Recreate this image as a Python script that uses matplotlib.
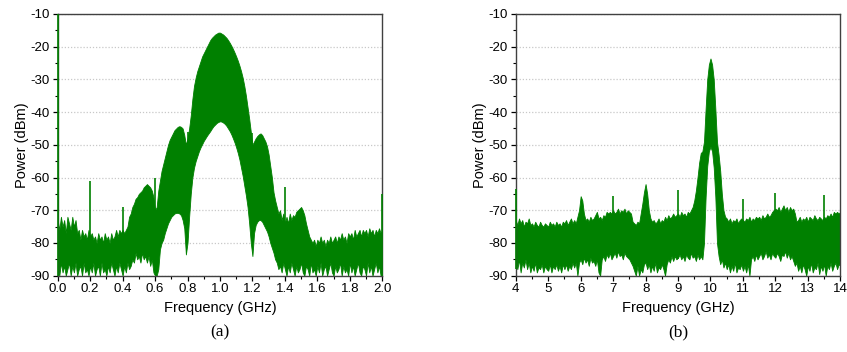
import numpy as np
import matplotlib
matplotlib.use("Agg")
import matplotlib.pyplot as plt
from matplotlib.ticker import MultipleLocator

plt.rcParams['font.family'] = ['Liberation Sans', 'DejaVu Sans']
plt.rcParams['axes.unicode_minus'] = False

GREEN = '#008000'

# ---- panel (a): 0-2 GHz, sampled every 0.01 GHz ----
freq_a = np.round(np.arange(0, 2.0001, 0.01), 2)
upper_a = [
    -73, -76, -72, -75, -73, -77, -72, -74, -76, -72,
    -75, -73, -77, -76, -79, -76, -78, -77, -79, -76,
    -78, -77, -79, -78, -80, -77, -79, -78, -80, -77,
    -79, -78, -80, -77, -79, -78, -76, -78, -76, -77,
    -76, -77, -76, -75, -72, -71, -69, -68, -66.5, -66,
    -65, -64.5, -64, -63, -62.5, -62, -62.5, -63, -64, -66,
    -70, -69, -64, -61, -58, -56, -54, -52, -50, -48.5,
    -47.5, -46.5, -45.5, -45, -44.5, -44.3, -44.5, -45, -47, -50,
    -48, -45, -41, -36, -32, -29.5, -27.5, -26, -24.5, -23,
    -22, -21, -20, -19, -18, -17.3, -16.8, -16.3, -16, -15.7,
    -15.7, -16, -16.3, -16.8, -17.3, -18, -18.8, -19.7, -20.7, -21.8,
    -23, -24.3, -25.8, -27.5, -29.5, -32, -35, -38.5, -42, -46,
    -50, -49, -48, -47.3, -46.8, -46.5, -47, -48, -49, -50.5,
    -53, -56.5, -60, -64.5, -67, -69, -71, -70, -73, -71,
    -74, -72, -74, -71, -73, -71.5, -72, -70.5, -70, -69.5,
    -69, -70, -71.5, -74, -76, -78, -79, -80, -79, -81,
    -79, -80, -78, -80, -79, -81, -79, -80, -78, -80,
    -79, -78, -80, -78, -79, -77, -79, -78, -80, -77,
    -78, -77, -79, -76, -78, -77, -76, -78, -76, -77,
    -76, -78, -75.5, -77, -76, -78, -76, -77, -75.5, -77,
    -76,
]
lower_a = [
    -88, -90, -86, -89, -87, -90, -88, -86, -90, -87,
    -89, -86, -90, -88, -87, -90, -86, -89, -88, -90,
    -87, -89, -86, -90, -88, -87, -90, -86, -89, -88,
    -90, -87, -89, -86, -88, -90, -87, -89, -86, -88,
    -90, -87, -89, -86, -88, -87, -85, -86, -83, -85,
    -84, -86, -83, -85, -84, -86, -84, -87, -85, -89,
    -90, -90, -88, -82, -80, -79, -77, -75.5, -74, -73,
    -72, -71.5, -71, -70.8, -70.8, -71, -71.5, -73, -75.5, -83.5,
    -80, -72, -65, -60, -57, -55, -53.5, -52, -50.8, -49.8,
    -48.8, -48, -47.2, -46.5, -45.8, -45, -44.3, -43.8, -43.3, -43,
    -42.8, -42.9, -43.2, -43.6, -44.2, -45, -45.8, -46.8, -48, -49.3,
    -50.8, -52.5, -54.5, -57, -59.5, -62.5, -65.5, -69, -74, -80,
    -84, -77, -74.5, -73.5, -73, -73, -73.5, -74.5, -75.5, -76.5,
    -78, -80, -81.5, -83, -85, -86, -88, -87, -89, -86,
    -88, -90, -87, -89, -86, -88, -90, -87, -89, -88,
    -86, -89, -90, -87, -88, -90, -86, -89, -88, -90,
    -87, -89, -86, -90, -88, -87, -90, -88, -86, -89,
    -90, -87, -89, -88, -86, -90, -87, -89, -88, -90,
    -86, -89, -87, -90, -88, -86, -89, -90, -87, -88,
    -90, -86, -89, -87, -90, -88, -86, -89, -87, -90,
    -88,
]
spike_a_freq = [0.0, 0.2, 0.4, 0.6, 0.8, 1.2, 1.4, 2.0]
spike_a_top = [-10, -61, -69, -60, -46, -46.5, -63, -65]
spike_a_bottom = [-90, -88, -88, -85, -60, -60, -86, -90]

# ---- panel (b): 4-14 GHz, sampled every 0.05 GHz ----
freq_b = np.round(np.arange(4, 14.0001, 0.05), 2)
upper_b = [
    -73, -74.5, -72.5, -74, -73, -75, -73.5, -74, -72.5, -74.5,
    -74, -75, -73.5, -74.5, -75, -73.5, -74.5, -75, -74, -74.5,
    -75, -73.5, -74.5, -74, -75, -73.5, -74.5, -74, -75, -73.5,
    -74, -73, -74.5, -73.5, -72.5, -74, -73, -74, -72, -70,
    -65.7, -67, -71, -73, -72.5, -73.5, -72, -73, -72.5, -71.5,
    -70.5, -72.5, -72, -73, -71.5, -72, -70.5, -71, -70.5, -71,
    -70, -71, -70.5, -69.5, -71, -70, -70.5, -69.5, -71, -70,
    -70.5, -71, -73.5, -74, -74.5, -73.5, -74, -71, -68, -64.5,
    -62, -65, -70, -72.5, -73.5, -73, -74, -73.5, -72.5, -74,
    -73, -73.5, -72, -73, -71.5, -72.5, -72, -71, -72, -71.5,
    -71, -72, -70.5, -71.5, -71, -72, -70.5, -71, -70, -69,
    -67, -64, -60, -55.5, -52.5, -52, -49, -39, -30, -25.5,
    -23.6, -25.5, -30, -39, -49, -53, -58, -65, -70, -72,
    -72.5, -73.5, -72.5, -74, -73, -73.5, -72.5, -74, -73, -72.5,
    -73, -73.5, -72.5, -73, -72, -73.5, -72.5, -73, -72, -72.5,
    -72, -73, -71.5, -72.5, -72, -71, -72, -71.5, -70.5, -70,
    -69.5, -70, -69, -70.5, -69.5, -68.5, -70, -69, -70.5, -69,
    -70, -69.5, -71, -73.5, -73, -72, -73.5, -72.5, -73, -72,
    -73.5, -72, -72.5, -73, -71.5, -72.5, -73, -72, -72.5, -73,
    -72, -72.5, -71.5, -72, -71, -72, -70.5, -71, -70.5, -71,
    -70.5,
]
lower_b = [
    -86, -88, -85, -89, -86, -87.5, -85, -88, -86, -89,
    -87, -88.5, -86, -89, -87.5, -88, -86.5, -89, -87, -88,
    -88.5, -86.5, -89, -87, -88, -86.5, -88.5, -87, -89, -86.5,
    -88, -86.5, -88.5, -87, -88, -86, -87.5, -86, -90, -86,
    -85, -86.5, -84.5, -86, -85, -87, -84.5, -86, -85.5, -87,
    -85, -89, -90, -85, -84, -85.5, -83.5, -84.5, -83, -85,
    -84, -83, -84.5, -82.5, -84, -83.5, -85, -83, -84, -84.5,
    -85, -86, -87, -88.5, -90, -87, -90, -88, -89, -86.5,
    -86, -88, -86.5, -89, -87, -88.5, -86, -89, -87.5, -88,
    -86.5, -88, -90, -86.5, -85, -86, -84, -85.5, -84, -85,
    -84.5, -83.5, -85, -84, -85.5, -83.5, -84.5, -85, -83, -84.5,
    -84, -85.5, -83.5, -85, -84, -85, -80, -66, -56.5, -52,
    -50.6, -52, -57, -66, -80, -84, -86.5, -85, -87.5, -86,
    -88, -86.5, -89, -87, -88.5, -86, -89, -87.5, -88, -86.5,
    -88.5, -87, -89, -86.5, -90, -85, -84, -85.5, -83.5, -85,
    -84, -83, -85, -84, -82.5, -84.5, -83.5, -85, -83, -84,
    -84.5, -83, -84, -85.5, -83.5, -84, -82.5, -84.5, -83, -85,
    -84, -85.5, -87, -86, -88.5, -87, -89, -86.5, -88, -90,
    -87, -88.5, -86, -89, -87.5, -88, -86, -89.5, -87, -88.5,
    -86.5, -90, -87, -88, -86, -88.5, -87, -86, -88, -86.5,
    -87,
]
spike_b_freq = [4.0, 7.0, 9.0, 11.0, 12.0, 13.5]
spike_b_top = [-63.5, -65.6, -63.9, -66.7, -64.6, -65.4]
spike_b_bottom = [-88, -84, -85, -87, -84, -87]

fig = plt.figure(figsize=(8.47, 3.52), dpi=100)
ax_a = fig.add_axes([0.0681, 0.2168, 0.3832, 0.7435])
ax_b = fig.add_axes([0.6089, 0.2168, 0.3832, 0.7435])

panels = [
    (ax_a, freq_a, upper_a, lower_a, spike_a_freq, spike_a_top, spike_a_bottom,
     (0, 2), 0.2, 0.1, '(a)'),
    (ax_b, freq_b, upper_b, lower_b, spike_b_freq, spike_b_top, spike_b_bottom,
     (4, 14), 1, 0.5, '(b)'),
]

for ax, f, up, lo, sf, st, sb, xlim, xmaj, xmin, tag in panels:
    ax.fill_between(f, lo, up, color=GREEN, lw=0.6, zorder=2)
    # narrow spurs, drawn above the frame so the edge ones stay visible
    ax.vlines(sf, sb, st, color=GREEN, lw=1.2, zorder=3, clip_on=False)
    ax.set_xlim(*xlim)
    ax.set_ylim(-90, -10)
    ax.xaxis.set_major_locator(MultipleLocator(xmaj))
    ax.xaxis.set_minor_locator(MultipleLocator(xmin))
    ax.yaxis.set_major_locator(MultipleLocator(10))
    ax.yaxis.set_minor_locator(MultipleLocator(5))
    if xmaj < 1:
        ax.xaxis.set_major_formatter(lambda v, p: '%.1f' % v)
    else:
        ax.xaxis.set_major_formatter(lambda v, p: '%d' % round(v))
    ax.yaxis.grid(True, which='major', color='#c8c8c8', ls=(0, (1, 1.5)), lw=0.9, zorder=0)
    ax.tick_params(which='major', direction='out', length=3.5, width=0.9,
                   labelsize=9.5, colors='black', pad=2)
    ax.tick_params(which='minor', direction='out', length=2, width=0.8)
    for sp in ax.spines.values():
        sp.set_color('#404040')
        sp.set_linewidth(1.0)
    ax.set_xlabel('Frequency (GHz)', fontsize=10.5, labelpad=4)
    ax.set_ylabel('Power (dBm)', fontsize=10.5, labelpad=1)
    ax.text(0.5, -0.215, tag, transform=ax.transAxes, ha='center', va='center',
            fontsize=12.5, family=['Liberation Serif', 'DejaVu Serif'])

fig.savefig('out.png', dpi=100)
